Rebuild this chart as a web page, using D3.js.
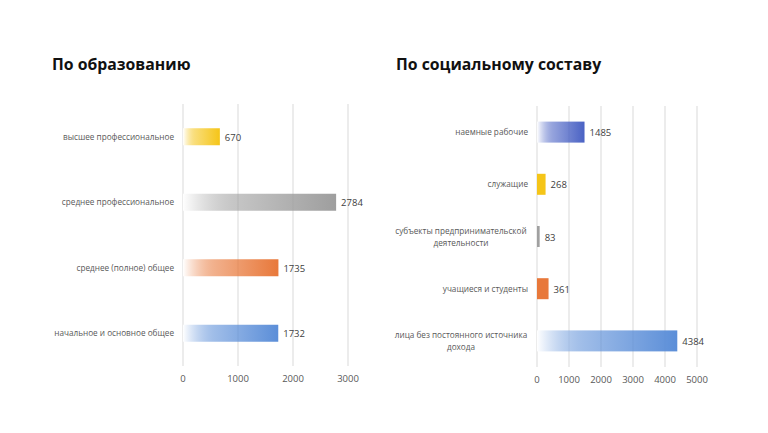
<!DOCTYPE html>
<html><head><meta charset="utf-8">
<script src="https://cdn.jsdelivr.net/npm/d3@7"></script>
<style>body{margin:0;background:#fff}svg{display:block;font-family:"Open Sans",sans-serif}</style>
</head><body><svg id="c" width="768" height="433"></svg>
<script>
const eduCats = ["высшее профессиональное", "среднее профессиональное", "среднее (полное) общее", "начальное и основное общее"];
const eduVals = [670, 2784, 1735, 1732];
const eduColors = ["#f5c518", "#9e9e9e", "#e8783a", "#5b8ed8"];
const eduTicks = [0, 1000, 2000, 3000];

const socCats = ["наемные рабочие", "служащие", "субъекты предпринимательской|деятельности", "учащиеся и студенты", "лица без постоянного источника|дохода"];
const socVals = [1485, 268, 83, 361, 4384];
const socColors = ["#4a62c4", "#f5c518", "#a0a0a0", "#e8783a", "#5b8ed8"];
const socTicks = [0, 1000, 2000, 3000, 4000, 5000];

const svg = d3.select("#c");
const defs = svg.append("defs");

function chart(o) {
  const x = d3.scaleLinear().domain([0, o.ticks[o.ticks.length - 1]]).range([o.x0, o.x1]);
  const y = d3.scaleBand().domain(o.cats).range([o.y0, o.y1]);
  const g = svg.append("g");
  g.append("text").attr("x", o.tx).attr("y", 70).attr("font-size", 15.8).attr("font-weight", "bold")
    .attr("fill", "#111").text(o.title);
  g.selectAll(".grid").data(o.ticks).enter().append("line")
    .attr("x1", d => x(d)).attr("x2", d => x(d)).attr("y1", o.y0).attr("y2", o.y1)
    .attr("stroke", "#d9d9d9").attr("stroke-width", 1);
  g.selectAll(".tick").data(o.ticks).enter().append("text")
    .attr("x", d => x(d)).attr("y", o.y1 + 16).attr("text-anchor", "middle")
    .attr("font-size", 9.5).attr("fill", "#595959").text(d => d);
  o.cats.forEach((c, i) => {
    const id = o.id + i;
    const gr = defs.append("linearGradient").attr("id", id);
    gr.append("stop").attr("offset", "0").attr("stop-color", "#fff");
    gr.append("stop").attr("offset", "0.35").attr("stop-color", o.colors[i]).attr("stop-opacity", 0.6);
    gr.append("stop").attr("offset", "1").attr("stop-color", o.colors[i]);
    const cy = y(c) + y.bandwidth() / 2;
    g.append("rect").attr("x", x(0)).attr("y", cy - o.bh / 2)
      .attr("width", x(o.vals[i]) - x(0)).attr("height", o.bh)
      .attr("fill", o.vals[i] < 500 ? o.colors[i] : `url(#${id})`);
    g.append("text").attr("x", x(o.vals[i]) + 5).attr("y", cy + 4)
      .attr("font-size", 9.5).attr("fill", "#404040").text(o.vals[i]);
    const lines = c.split("|");
    lines.forEach((l, k) => {
      g.append("text").attr("text-anchor", lines.length > 1 ? "middle" : "end")
        .attr("x", lines.length > 1 ? o.x0 - 76 : o.x0 - 9)
        .attr("y", cy + 3 + (k - (lines.length - 1) / 2) * 12)
        .attr("font-size", 8.2).attr("fill", "#595959").text(l);
    });
  });
}

chart({ id: "e", title: "По образованию", tx: 52, cats: eduCats, vals: eduVals, colors: eduColors,
  ticks: eduTicks, x0: 183, x1: 348, y0: 104, y1: 366, bh: 17 });
chart({ id: "s", title: "По социальному составу", tx: 396, cats: socCats, vals: socVals, colors: socColors,
  ticks: socTicks, x0: 537, x1: 697, y0: 106, y1: 367, bh: 21 });
</script></body></html>
